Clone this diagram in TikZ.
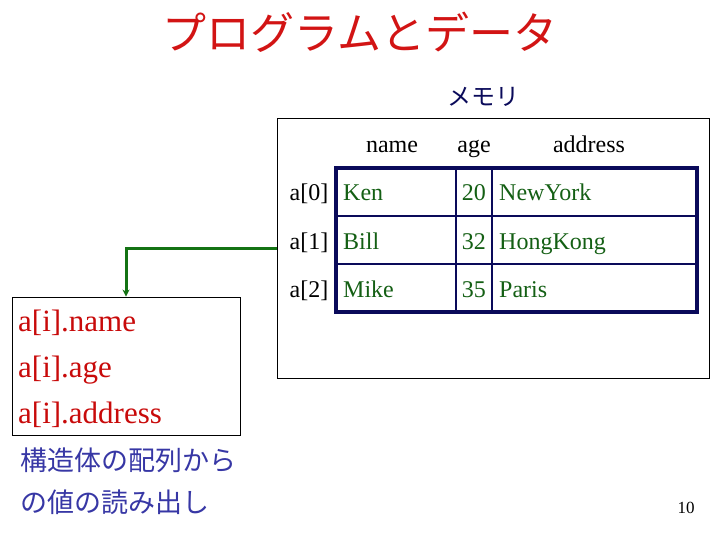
\documentclass[tikz,border=0pt]{standalone}
\usepackage{fontspec}
\setmainfont{Liberation Serif}
\newfontfamily\jpfont{Noto Sans CJK JP}
\usetikzlibrary{arrows.meta, positioning}
\definecolor{rojoTitulo}{RGB}{210,20,20}
\definecolor{rojoCodigo}{RGB}{200,10,10}
\definecolor{azulMemoria}{RGB}{10,10,90}
\definecolor{verdeDato}{RGB}{20,95,20}
\definecolor{verdeFlecha}{RGB}{20,115,20}
\definecolor{azulNota}{RGB}{55,55,165}

\begin{document}
\begin{tikzpicture}[
  x=1pt, y=-1pt,
  caja/.style={rectangle, draw=black, line width=0.9pt, inner sep=0pt},
  cabecera/.style={font=\fontsize{24}{28}\selectfont, anchor=base, inner sep=0pt},
  indice/.style={font=\fontsize{24}{28}\selectfont, anchor=base, inner sep=0pt},
  dato/.style={font=\fontsize{24}{28}\selectfont, text=verdeDato, inner sep=0pt},
  codigo/.style={font=\fontsize{31}{36}\selectfont, text=rojoCodigo, anchor=base west, inner sep=0pt},
  nota/.style={font=\jpfont\fontsize{27}{32}\selectfont, text=azulNota, anchor=west, inner sep=0pt},
  flecha/.style={draw=verdeFlecha, line width=3pt, -{Stealth[length=7pt, width=7pt]}}
]
\useasboundingbox (0,0) rectangle (720,540);

% Titulo
\node[font=\jpfont\fontsize{44}{50}\selectfont, text=rojoTitulo] (titulo) at (360,32) {プログラムとデータ};

% Memoria
\node[font=\jpfont\fontsize{24}{28}\selectfont, text=azulMemoria] (etiqMemoria) at (483,97) {メモリ};
\node[caja, minimum width=432, minimum height=260] (memoria) at (493,248) {};

% Cabeceras de columna
\node[cabecera] (colNombre) at (392,153) {name};
\node[cabecera] (colEdad)   at (474,153) {age};
\node[cabecera] (colDir)    at (589,153) {address};

% Tabla de estructuras
\node[rectangle, draw=azulMemoria, line width=3.4pt, minimum width=361, minimum height=144] (tabla) at (516.5,240) {};
\draw[azulMemoria, line width=1.1pt] (456,168) -- (456,312);
\draw[azulMemoria, line width=1.1pt] (492,168) -- (492,312);
\draw[azulMemoria, line width=1.1pt] (336,216) -- (697,216);
\draw[azulMemoria, line width=1.1pt] (336,264) -- (697,264);

\foreach \nom/\edad/\dir [count=\r from 0] in {Ken/20/NewYork, Bill/32/HongKong, Mike/35/Paris}{
  \node[indice] (fila\r) at (309,{201+48*\r}) {a[\r]};
  \node[dato, anchor=base west] (nombre\r) at (343,{201+48*\r}) {\nom};
  \node[dato, anchor=base east] (edad\r)   at (486,{201+48*\r}) {\edad};
  \node[dato, anchor=base west] (dir\r)    at (499,{201+48*\r}) {\dir};
}

% Acceso desde el programa
\node[caja, minimum width=228, minimum height=138] (codigo) at (126,366) {};
\node[codigo] (accNombre) at (18,331) {a[i].name};
\node[codigo] (accEdad)   at (18,377) {a[i].age};
\node[codigo] (accDir)    at (18,423) {a[i].address};

\draw[flecha] (memoria.west) -| (codigo.north);

% Nota
\node[nota] (nota1) at (20,460) {構造体の配列から};
\node[nota] (nota2) at (20,502) {の値の読み出し};

% Numero de pagina
\node[font=\fontsize{17}{20}\selectfont, anchor=base, inner sep=0pt] (pagina) at (686,513) {10};

\end{tikzpicture}
\end{document}
